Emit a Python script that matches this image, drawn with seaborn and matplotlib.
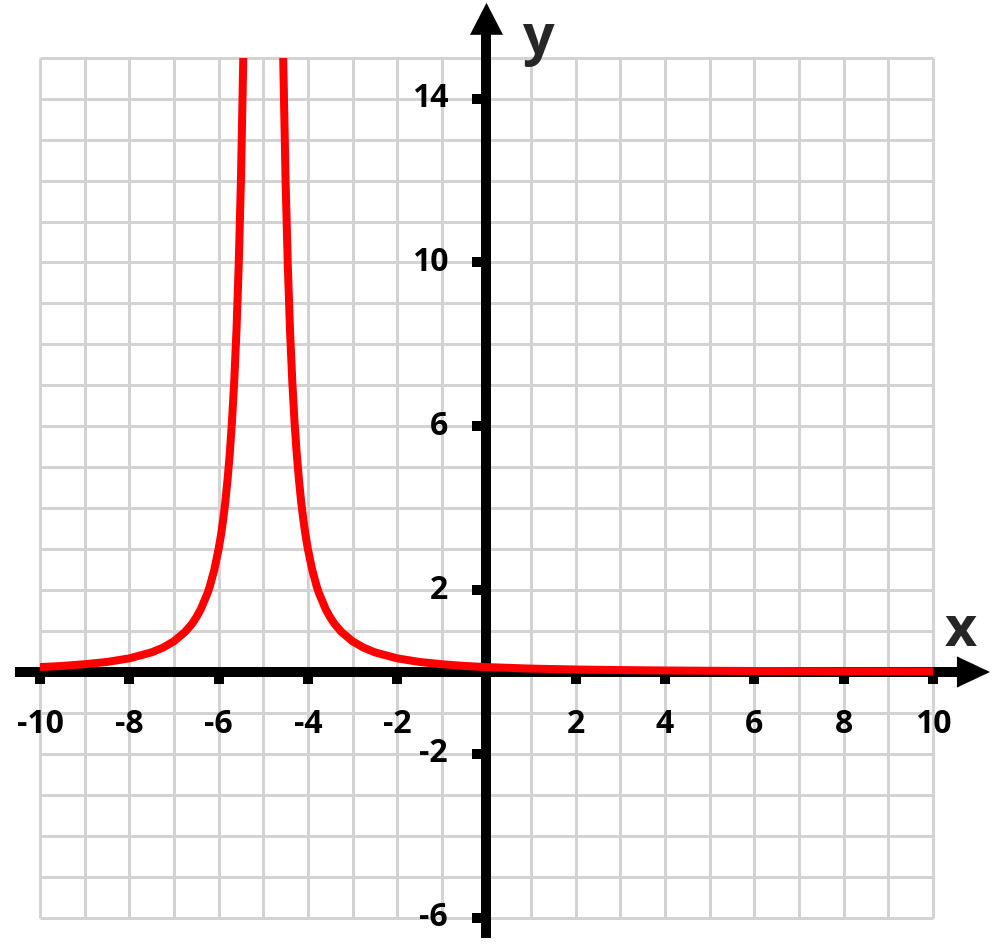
import matplotlib
matplotlib.use("Agg")
import matplotlib.pyplot as plt
from matplotlib.patches import Rectangle
import seaborn as sns
import pandas as pd

# ---- data ----
curve_x = [-10, -9.5, -9, -8.5, -8, -7.5, -7.25, -7, -6.75, -6.6, -6.5, -6.4, -6.25, -6.2, -6.1,
           -6, -5.95, -5.9, -5.85, -5.8, -5.75, -5.7, -5.65, -5.6, -5.55, -5.5, -5.45, -5.4,
           -4.6, -4.55, -4.5, -4.45, -4.4, -4.35, -4.3, -4.25, -4.2, -4.15, -4.1, -4.05, -4,
           -3.9, -3.8, -3.75, -3.6, -3.5, -3.4, -3.25, -3, -2.75, -2.5, -2, -1.5, -1, -0.5,
           0, 1, 2, 3, 4, 5, 6, 8, 10]
curve_y = [0.12, 0.148, 0.19, 0.245, 0.333, 0.48, 0.593, 0.75, 0.98, 1.17, 1.333, 1.53, 1.92, 2.08, 2.48,
           3.0, 3.32, 3.70, 4.15, 4.69, 5.33, 6.12, 7.10, 8.33, 9.92, 12.0, 14.81, 18.75,
           18.75, 14.81, 12.0, 9.92, 8.33, 7.10, 6.12, 5.33, 4.69, 4.15, 3.70, 3.32, 3.0,
           2.48, 2.08, 1.92, 1.53, 1.333, 1.17, 0.98, 0.75, 0.593, 0.48, 0.333, 0.245, 0.19, 0.148,
           0.12, 0.083, 0.061, 0.047, 0.037, 0.030, 0.025, 0.018, 0.013]
x_tick_labels = [-10, -8, -6, -4, -2, 2, 4, 6, 8, 10]
y_tick_labels = [14, 10, 6, 2, -2, -6]
grid_x = list(range(-10, 11))
grid_y = list(range(-6, 16))

sns.set_style("white")
plt.rcParams['font.family'] = ['Open Sans', 'DejaVu Sans']

fig = plt.figure(figsize=(10, 9.51), dpi=100)
ax = fig.add_axes([0, 0, 1, 1])
ax.set_xlim(-10.896, 11.501)
ax.set_ylim(-6.813, 16.41)
ax.axis('off')

px = 72 / 100  # points per pixel

# grid
grid_col = '#d3d3d3'
ax.vlines(grid_x, -6, 15, color=grid_col, lw=3 * px, zorder=1)
ax.hlines(grid_y, -10, 10, color=grid_col, lw=3 * px, zorder=1)

# axes lines
ax.plot([-10.56, 10.6], [0, 0], color='black', lw=10 * px, solid_capstyle='butt', zorder=3)
ax.plot([0, 0], [-6.5, 15.6], color='black', lw=10 * px, solid_capstyle='butt', zorder=3)
# arrowheads
ax.fill([10.537, 11.277, 10.537], [-0.38, 0, 0.38], color='black', lw=0, zorder=3)
ax.fill([-0.37, 0, 0.37], [15.56, 16.34, 15.56], color='black', lw=0, zorder=3)

# tick marks
ax.vlines(x_tick_labels, -0.29, 0, color='black', lw=10 * px, zorder=3)
ax.hlines(y_tick_labels, -0.32, 0, color='black', lw=10 * px, zorder=3)

# tick labels
for v in x_tick_labels:
    ax.text(v, -1.27, str(v), ha='center', va='center', fontsize=23,
            fontweight='bold', color='black')
for v in y_tick_labels:
    ax.text(-0.86, v, str(v), ha='right', va='center', fontsize=23,
            fontweight='bold', color='black')

# axis names
ax.text(10.63, 1.0, 'x', ha='center', va='center', fontsize=40, fontweight='bold')
ax.text(1.15, 15.45, 'y', ha='center', va='center', fontsize=40, fontweight='bold')

# curve
df = pd.DataFrame({'x': curve_x, 'y': curve_y})
sns.lineplot(data=df, x='x', y='y', ax=ax, color='#ff0000', lw=8 * px,
             estimator=None, sort=False, zorder=4)
clip = Rectangle((-10, -6), 20, 21, transform=ax.transData, facecolor='none', edgecolor='none')
ax.add_patch(clip)
for line in ax.get_lines()[-1:]:
    line.set_clip_path(clip)
    line.set_solid_capstyle('butt')
    line.set_solid_joinstyle('round')

ax.set_xlim(-10.896, 11.501)
ax.set_ylim(-6.813, 16.41)
fig.savefig('out.png', dpi=100)
